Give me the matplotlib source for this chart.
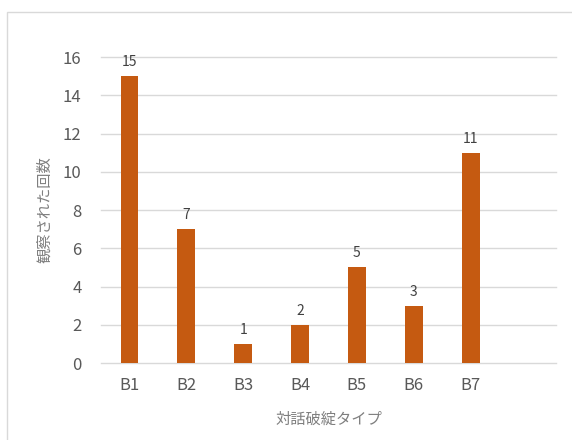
import matplotlib
matplotlib.use("Agg")
import matplotlib.pyplot as plt
from matplotlib.patches import Rectangle

plt.rcParams['font.family'] = ['Noto Sans CJK JP', 'DejaVu Sans']

# counts per breakdown type (last slot on the axis is left empty)
categories = ["B1", "B2", "B3", "B4", "B5", "B6", "B7", ""]
counts = [15, 7, 1, 2, 5, 3, 11, None]
yticks = [0, 2, 4, 6, 8, 10, 12, 14, 16]

bar_color = "#C55A11"
text_color = "#595959"
grid_color = "#D9D9D9"

fig = plt.figure(figsize=(5.72, 4.4), dpi=100)
fig.patch.set_facecolor("white")
# outer chart frame, running off the right and bottom edges
fig.patches.append(Rectangle((7 / 572, -0.1), 1.2, 1.1 - 12 / 440,
                             transform=fig.transFigure, fill=False,
                             edgecolor=grid_color, linewidth=1.0))

ax = fig.add_axes([101 / 572, 1 - 363 / 440, 455 / 572, 306 / 440])

xs = [i for i, v in enumerate(counts) if v is not None]
vals = [v for v in counts if v is not None]
bars = ax.bar(xs, vals, width=0.31, color=bar_color, zorder=3)
for b, v in zip(bars, vals):
    ax.annotate(str(v), (b.get_x() + b.get_width() / 2, v),
                xytext=(0, 5), textcoords="offset points",
                ha="center", va="bottom", fontsize=10, color="#404040")

ax.set_xlim(-0.5, len(categories) - 0.5)
ax.set_ylim(0, 16)
ax.set_xticks(range(len(categories)))
ax.set_xticklabels(categories)
ax.set_yticks(yticks)
ax.tick_params(axis="both", length=0, colors=text_color, labelsize=12)
ax.tick_params(axis="y", pad=14)
ax.tick_params(axis="x", pad=10)
ax.yaxis.grid(True, color=grid_color, linewidth=1.0, zorder=0)
for gl in ax.get_ygridlines():
    gl.set_clip_on(False)
for s in ax.spines.values():
    s.set_visible(False)

ax.set_ylabel("観察された回数", color="#7F7F7F", fontsize=11, labelpad=7)
ax.set_xlabel("対話破綻タイプ", color="#7F7F7F", fontsize=11, labelpad=12)

fig.savefig("out.png", dpi=100)
